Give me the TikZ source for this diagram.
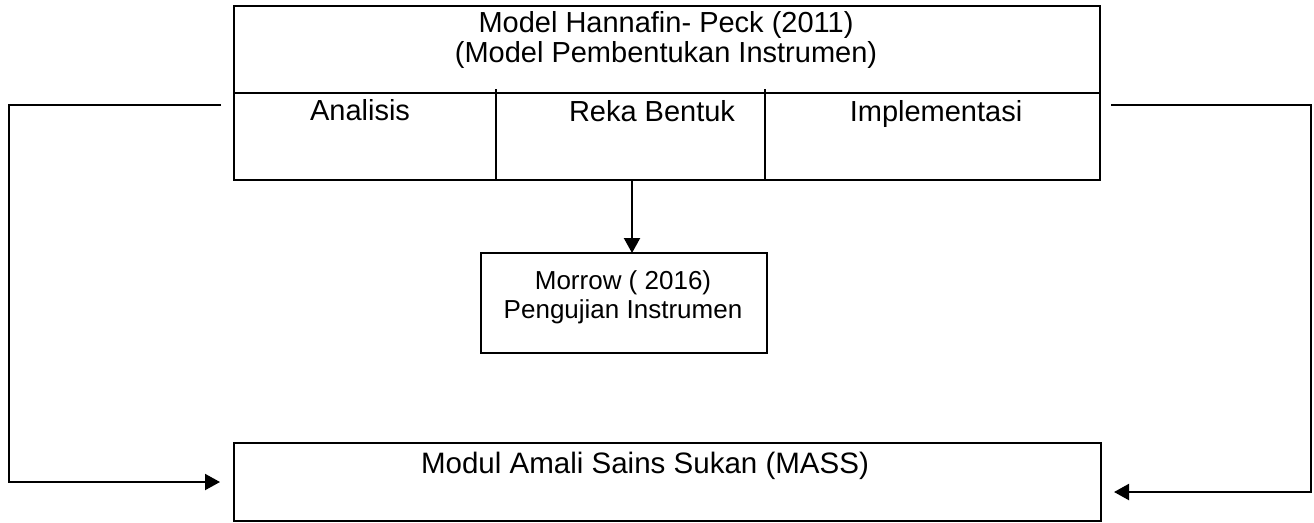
\documentclass[tikz,border=0pt]{standalone}
\usepackage{fontspec}
\setmainfont{Liberation Sans}
\usetikzlibrary{positioning}
\usetikzlibrary{arrows.meta}

\begin{document}
\begin{tikzpicture}[
outerbox/.style ={rectangle, draw, line width=1.5pt, inner sep=0pt, outer sep=0pt, anchor=north west},
midbox/.style ={rectangle, draw, line width=1pt, inner sep=0pt, outer sep=0pt, anchor=north west},
cell/.style ={inner sep=0pt, anchor=base, font=\fontsize{16.5}{18}\selectfont},
link/.style ={line width=1.2pt, -{Triangle[length=0.3cm,width=0.32cm]}}
]
\useasboundingbox (0,0) rectangle (26.28,-10.44);
%top box, Hannafin-Peck
\path (4.68,-0.12) node[outerbox, minimum width=17.32cm, minimum height=3.48cm](hp) {};
\path (13.32,-0.216) node[anchor=north, inner sep=0pt, align=center, font=\fontsize{16.5}{17.1}\selectfont](title) {Model Hannafin- Peck (2011)\\(Model Pembentukan Instrumen)};
%row of the three phases
\draw[line width=1.3pt] (4.68,-1.86) -- (22,-1.86);
\draw[line width=0.8pt] (9.92,-1.78) -- (9.92,-3.6);
\draw[line width=0.8pt] (15.3,-1.78) -- (15.3,-3.6);
\path (7.2,-2.4) node[cell](analisis) {Analisis}
(13.04,-2.42) node[cell](rekabentuk) {Reka Bentuk}
(18.72,-2.42) node[cell](implementasi) {Implementasi};
%testing box
\path (9.62,-5.06) node[midbox, minimum width=5.72cm, minimum height=2cm](morrow) {};
\path (12.46,-5.40) node[anchor=north, inner sep=0pt, align=center, font=\fontsize{14.8}{16.5}\selectfont](morrowtxt) {Morrow ( 2016)\\Pengujian Instrumen};
\coordinate (mid) at (12.64,-3.6);
\draw[link] (hp.south -| mid) -- (morrow.north -| mid);
%module box
\path (4.68,-8.86) node[outerbox, minimum width=17.34cm, minimum height=1.56cm](mass) {};
\path (12.9,-9.46) node[anchor=base, inner sep=0pt, font=\fontsize{16.8}{18}\selectfont](masstxt) {Modul Amali Sains Sukan (MASS)};
%left link
\coordinate (lstart) at ([xshift=-0.26cm,yshift=-0.24cm]hp.west);
\coordinate (lend) at ([xshift=-0.28cm]mass.west);
\coordinate (lside) at (0.18,-5);
\draw[link] (lstart) -- (lstart -| lside) |- (lend);
%right link
\coordinate (rstart) at ([xshift=0.22cm,yshift=-0.24cm]hp.east);
\coordinate (rend) at ([xshift=0.26cm,yshift=-0.2cm]mass.east);
\coordinate (rside) at (26.22,-5);
\draw[link] (rstart) -- (rstart -| rside) |- (rend);
\end{tikzpicture}
\end{document}
